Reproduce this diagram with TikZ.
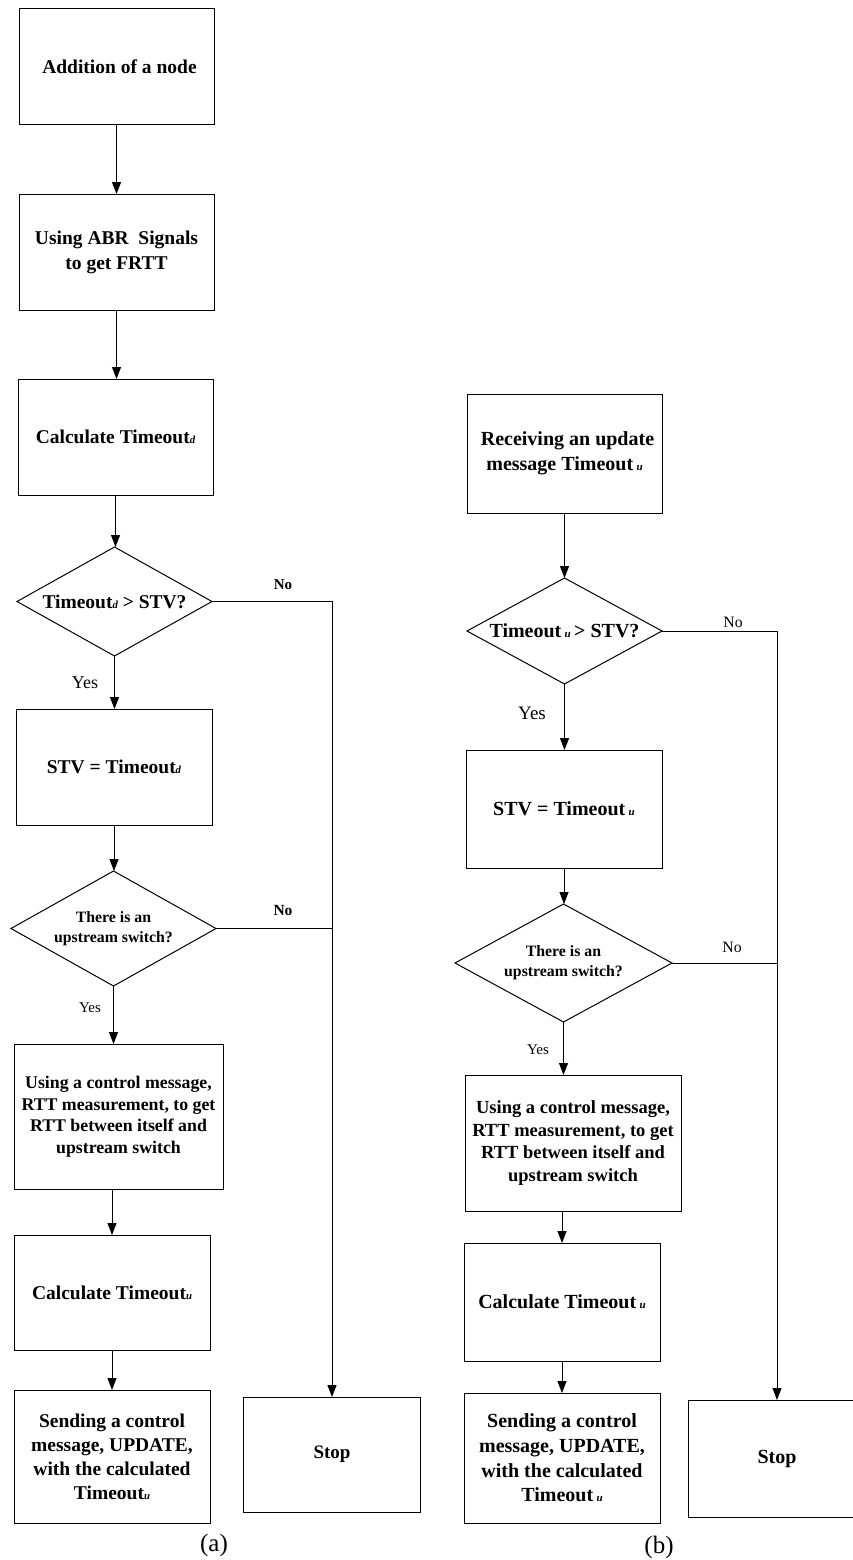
\documentclass[tikz,border=0pt]{standalone}
\usepackage{fontspec}
\setmainfont{Liberation Serif}
\usepackage{graphicx}
\usetikzlibrary{shapes.geometric,arrows.meta}
\newcommand\subsc[1]{\scalebox{0.55}{\itshape #1}}
\newcommand\fsz[2]{\fontsize{#1}{#2}\selectfont}
\begin{document}
\begin{tikzpicture}[x=1pt,y=-1pt,
  every node/.style={inner sep=0pt, outer sep=0pt},
  box/.style={draw, line width=1pt, align=center, font=\bfseries\fsz{19.5}{25}},
  dia/.style={diamond, aspect=1.8, draw, line width=1pt, align=center, font=\bfseries\fsz{19.5}{25}},
  arr/.style={line width=1pt, -{Triangle[length=12pt,width=9pt]}},
  ln/.style={line width=1pt},
  lbl/.style={font=\fsz{15.5}{18}},
]
\useasboundingbox (0,0) rectangle (853,1560);
\clip (0,0) rectangle (853,1560);

% ---------- (a) ----------
\node[box, minimum width=195, minimum height=116] (a1) at (116.5,67) {\hspace*{6pt}Addition of a node};
\node[box, minimum width=195, minimum height=116] (a2) at (116.5,252) {Using ABR\ \ Signals\\to get FRTT};
\node[box, minimum width=195, minimum height=116] (a3) at (115.5,437) {Calculate Timeout\subsc{d}};
\node[dia, minimum width=195, minimum height=109] (ad1) at (114.5,601.5) {Timeout\subsc{d} > STV?};
\node[box, minimum width=196, minimum height=116] (a4) at (114,767) {STV = Timeout\subsc{d}};
\node[dia, minimum width=205, minimum height=115, font=\bfseries\fsz{15.8}{20}] (ad2) at (113.5,928.5) {There is an\\upstream switch?};
\node[box, minimum width=209, minimum height=145, font=\bfseries\fsz{17.8}{21.5}] (a5) at (118.5,1116.5) {Using a control message,\\RTT measurement, to get\\RTT between itself and\\upstream switch};
\node[box, minimum width=196, minimum height=115] (a6) at (112,1292.5) {Calculate Timeout\subsc{u}};
\node[box, minimum width=196, minimum height=133, font=\bfseries\fsz{19.5}{24}] (a7) at (112,1456.5) {Sending a control\\message, UPDATE,\\with the calculated\\Timeout\subsc{u}};
\node[box, minimum width=177, minimum height=115, font=\bfseries\fsz{19}{24}] (astop) at (332,1454.5) {Stop};

\draw[arr] (a1.south) -- (a1.south |- a2.north);
\draw[arr] (a2.south) -- (a2.south |- a3.north);
\draw[arr] (a3.south) -- (a3.south |- ad1.north);
\draw[arr] (ad1.south) -- (ad1.south |- a4.north);
\draw[arr] (a4.south) -- (a4.south |- ad2.north);
\draw[arr] (ad2.south) -- (ad2.south |- a5.north);
\draw[arr] (a6.north |- a5.south) -- (a6.north);
\draw[arr] (a6.south) -- (a6.south |- a7.north);
\draw[arr] (ad1.east) -| (astop.north);
\draw[ln] (ad2.east) -- (ad2.east -| astop.north);

\node[lbl, font=\bfseries\fsz{15}{18}] (na1) at (283,585) {No};
\node[lbl, font=\fsz{18}{20}] (ya1) at (85,683) {Yes};
\node[lbl, font=\bfseries\fsz{15.5}{18}] (na2) at (283,910) {No};
\node[lbl, font=\fsz{15}{18}] (ya2) at (90,1008) {Yes};
\node[font=\fsz{25}{30}] (capa) at (214,1545) {(a)};

% ---------- (b) ----------
\node[box, minimum width=195, minimum height=119, font=\bfseries\fsz{20}{25}] (b1) at (564.5,453.5) {\hspace*{6pt}Receiving an update\\message Timeout\,\subsc{u}};
\node[dia, minimum width=195, minimum height=106, font=\bfseries\fsz{20}{25}] (bd1) at (564.5,631) {Timeout\,\subsc{u}\,> STV?};
\node[box, minimum width=196, minimum height=118, font=\bfseries\fsz{20}{25}] (b2) at (564,809) {STV = Timeout\,\subsc{u}};
\node[dia, minimum width=217, minimum height=118, font=\bfseries\fsz{15.8}{20}] (bd2) at (563.5,963) {There is an\\upstream switch?};
\node[box, minimum width=216, minimum height=136, font=\bfseries\fsz{18.5}{22.7}] (b3) at (573,1143) {Using a control message,\\RTT measurement, to get\\RTT between itself and\\upstream switch};
\node[box, minimum width=196, minimum height=118, font=\bfseries\fsz{20}{25}] (b4) at (562,1302) {Calculate Timeout\,\subsc{u}};
\node[box, minimum width=196, minimum height=130, font=\bfseries\fsz{20}{24.7}] (b5) at (562,1458) {Sending a control\\message, UPDATE,\\with the calculated\\Timeout\,\subsc{u}};
\node[box, minimum width=178, minimum height=117, font=\bfseries\fsz{20}{24}] (bstop) at (777,1458.5) {Stop};

\draw[arr] (b1.south) -- (b1.south |- bd1.north);
\draw[arr] (bd1.south) -- (bd1.south |- b2.north);
\draw[arr] (b2.south) -- (b2.south |- bd2.north);
\draw[arr] (bd2.south) -- (bd2.south |- b3.north);
\draw[arr] (b4.north |- b3.south) -- (b4.north);
\draw[arr] (b4.south) -- (b4.south |- b5.north);
\draw[arr] (bd1.east) -| (bstop.north);
\draw[ln] (bd2.east) -- (bd2.east -| bstop.north);

\node[lbl, font=\fsz{15.8}{18}] (nb1) at (733,622) {No};
\node[lbl, font=\fsz{19}{22}] (yb1) at (532,713) {Yes};
\node[lbl, font=\fsz{15.8}{18}] (nb2) at (732,947) {No};
\node[lbl, font=\fsz{15}{18}] (yb2) at (538,1050) {Yes};
\node[font=\fsz{25}{30}] (capb) at (659,1547) {(b)};
\end{tikzpicture}
\end{document}
